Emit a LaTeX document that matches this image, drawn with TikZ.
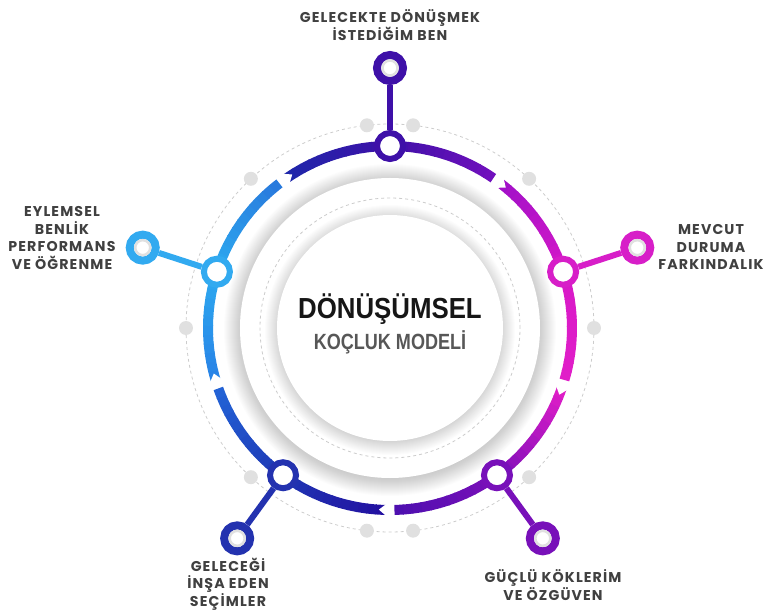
\documentclass[tikz,border=0pt]{standalone}
\usepackage{fontspec}
\newfontfamily\lblfont{Poppins}[LetterSpace=8]
\newfontfamily\titlefont{Liberation Sans}[FakeStretch=0.89]
\newfontfamily\subfont{Liberation Sans}[FakeStretch=0.82]

% ring colours
\definecolor{cTop}{RGB}{62,16,168}
\definecolor{cA0}{RGB}{115,16,190}
\definecolor{cB0}{RGB}{160,16,200}
\definecolor{cRight}{RGB}{215,25,200}
\definecolor{cA1}{RGB}{225,30,200}
\definecolor{cBR}{RGB}{125,15,185}
\definecolor{cA2}{RGB}{75,15,175}
\definecolor{cB2}{RGB}{35,15,160}
\definecolor{cBL}{RGB}{30,55,180}
\definecolor{cA3}{RGB}{35,100,215}
\definecolor{cB3}{RGB}{40,130,230}
\definecolor{cLeft}{RGB}{45,170,240}
\definecolor{cA4}{RGB}{40,120,220}
\definecolor{cB4}{RGB}{30,40,170}
% node colours
\definecolor{nTop}{RGB}{62,16,168}
\definecolor{nRight}{RGB}{215,30,200}
\definecolor{nBR}{RGB}{120,16,185}
\definecolor{nBL}{RGB}{35,50,175}
\definecolor{nLeft}{RGB}{50,170,240}
\definecolor{lblgray}{RGB}{64,64,64}
\definecolor{titlegray}{RGB}{22,22,22}
\definecolor{subgray}{RGB}{87,87,87}
\definecolor{dotgray}{RGB}{224,224,224}

% arc piece of the ring, colour going from #3 to #4
\newcommand{\ringpiece}[4]{%
  \foreach \i in {0,...,11}{
    \pgfmathsetmacro{\sa}{(#1)+((#2)-(#1))*\i/12}
    \pgfmathsetmacro{\ea}{(#1)+((#2)-(#1))*(\i+1)/12+ifthenelse(\i<11,-0.3,0)}
    \pgfmathtruncatemacro{\p}{100*(\i+0.5)/12}
    \draw[line width=10pt, #4!\p!#3] (\sa:182) arc[start angle=\sa, end angle=\ea, radius=182];
  }%
}
% notch at the start of a piece
\newcommand{\notch}[1]{%
  \fill[white] ({(#1)+0.6}:189) -- ({(#1)+0.6}:175) -- ({(#1)-2.1}:182) -- cycle;
}

\begin{document}
\begin{tikzpicture}[x=1pt,y=1pt,
  ringnode/.style={circle, fill=white, line width=6pt, minimum size=26pt, inner sep=0pt},
  outernode/.style={circle, fill=white, line width=8pt, minimum size=26pt, inner sep=0pt},
  stem/.style={line width=6pt},
  innerdot/.style={draw=dotgray, fill=white, line width=2.5pt},
  lbl/.style={align=center, text=lblgray, font=\lblfont\bfseries\fontsize{14.2}{17.5}\selectfont},
  guide/.style={draw=gray!40, line width=0.8pt, dash pattern=on 3pt off 3pt}]

\useasboundingbox (-390,-287) rectangle (378,328);

% Outer dashed circle and dots
\draw[guide] (0,0) circle (204);
\foreach \a in {0,47,83.5,96.5,133,180,-133,-96.5,-83.5,-47}
  \fill[dotgray] (\a:204) circle (7);

% Big disk with soft shadow
\foreach \i in {1,...,18}
  \fill[black, opacity=0.011] (0,-2) circle (148+\i);
\fill[white] (0,0) circle (150);

% Inner dashed circle
\draw[guide] (0,0) circle (130);

% Inner disk with soft shadow
\foreach \i in {1,...,14}
  \fill[black, opacity=0.012] (0,-2) circle (111+\i);
\fill[white] (0,0) circle (113);

% Ring (clockwise)
\ringpiece{90}{55.4}{cTop}{cA0}
\ringpiece{52.6}{18}{cB0}{cRight}
\ringpiece{18}{-16.6}{cRight}{cA1}
\ringpiece{-19.4}{-54}{cA1}{cBR}
\ringpiece{-54}{-88.6}{cBR}{cA2}
\ringpiece{-91.4}{-126}{cB2}{cBL}
\ringpiece{-126}{-160.6}{cBL}{cA3}
\ringpiece{-163.4}{-198}{cB3}{cLeft}
\ringpiece{-198}{-232.6}{cLeft}{cA4}
\ringpiece{-235.4}{-270}{cB4}{cTop}
\foreach \g in {52.6,-19.4,-91.4,-163.4,-235.4} {\notch{\g}}

% Nodes and stems
\foreach \a/\c/\n in {90/nTop/1, 18/nRight/2, -54/nBR/3, -126/nBL/4, 162/nLeft/5} {
  \node[ringnode, draw=\c] (r\n) at (\a:182) {};
  \node[outernode, draw=\c] (o\n) at (\a:260) {};
  \draw[stem, \c] (r\n) -- (o\n);
  \draw[innerdot] (o\n) circle (7.5);
}

% Labels
\node[lbl] (t1) at (0,303) {GELECEKTE DÖNÜŞMEK\\İSTEDİĞİM BEN};
\node[lbl] (t2) at (321,81) {MEVCUT\\DURUMA\\FARKINDALIK};
\node[lbl] (t3) at (163,-257) {GÜÇLÜ KÖKLERİM\\VE ÖZGÜVEN};
\node[lbl] (t4) at (-162,-256) {GELECEĞİ\\İNŞA EDEN\\SEÇİMLER};
\node[lbl] (t5) at (-328,90) {EYLEMSEL\\BENLİK\\PERFORMANS\\VE ÖĞRENME};

% Title
\node[anchor=base, text=titlegray, font=\titlefont\bfseries\fontsize{29}{29}\selectfont] (title) at (0,9) {DÖNÜŞÜMSEL};
\node[anchor=base, text=subgray, font=\subfont\bfseries\fontsize{22}{22}\selectfont] (sub) at (0,-22) {KOÇLUK MODELİ};

\end{tikzpicture}
\end{document}
